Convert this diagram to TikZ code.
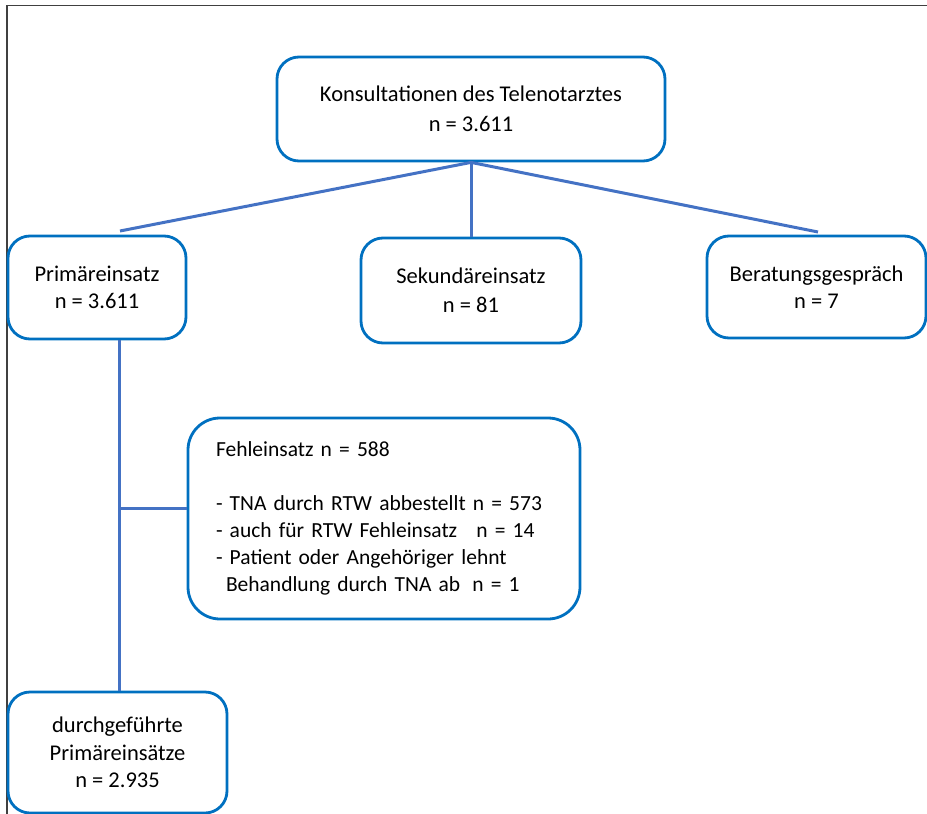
\documentclass[tikz,border=0pt]{standalone}
\usepackage{fontspec}
\setmainfont{Carlito}
\definecolor{boxblue}{HTML}{0070C0}
\definecolor{linkblue}{HTML}{4472C4}
\definecolor{framegray}{HTML}{404040}
\begin{document}
\begin{tikzpicture}[x=1pt,y=-1pt,
  box/.style={draw=boxblue, line width=2.8pt, rounded corners=22pt, fill=white,
    align=center, inner sep=0pt, font=\fontsize{22.5}{27}\selectfont},
  link/.style={draw=linkblue, line width=3pt}]
\useasboundingbox (0,0) rectangle (927,814);
% outer frame (top and left edges only)
\draw[framegray, line width=1.5pt] (7,814) -- (7,5.5) -- (927,5.5);

% boxes
\node[box, minimum width=388pt, minimum height=104pt,
      font=\fontsize{22.5}{30}\selectfont] (top) at (471,109)
  {Konsultationen des Telenotarztes\\n = 3.611};
\node[box, minimum width=178pt, minimum height=103pt] (prim) at (97,287.5)
  {Primäreinsatz\\n = 3.611};
\node[box, minimum width=220pt, minimum height=105pt,
      font=\fontsize{22.5}{29}\selectfont] (sek) at (471,290.5)
  {Sekundäreinsatz\\n = 81};
\node[box, minimum width=219pt, minimum height=102pt] (ber) at (816.5,287)
  {Beratungsgespräch\\n = 7};
\node[box, rounded corners=32pt, minimum width=392pt, minimum height=201pt,
      text width=336pt, align=left, inner xsep=28pt,
      font=\fontsize{21.5}{27}\selectfont] (feh) at (384,518.5)
  {Fehleinsatz n = 588\\[27pt]
   - TNA durch RTW abbestellt n = 573\\
   - auch für RTW Fehleinsatz\hspace{12pt} n = 14\\
   - Patient oder Angehöriger lehnt\\
   \hspace*{10pt}Behandlung durch TNA ab\hspace{5pt} n = 1};
\node[box, minimum width=219pt, minimum height=121pt,
      font=\fontsize{22.5}{27.5}\selectfont] (durch) at (117.5,752.5)
  {durchgeführte\\Primäreinsätze\\n = 2.935};

% free ends of the branch lines and the trunk position
\coordinate (pl) at (120,231);
\coordinate (pr) at (818,232);
\coordinate (trunk) at (119.5,0);
\coordinate (fork) at (119.5,508);

% connectors
\draw[link] (top.south) -- (pl);
\draw[link] (top.south) -- (sek.north);
\draw[link] (top.south) -- (pr);
\draw[link] (prim.south -| trunk) -- (durch.north -| trunk);
\draw[link] (fork) -- (fork -| feh.west);
\end{tikzpicture}
\end{document}
